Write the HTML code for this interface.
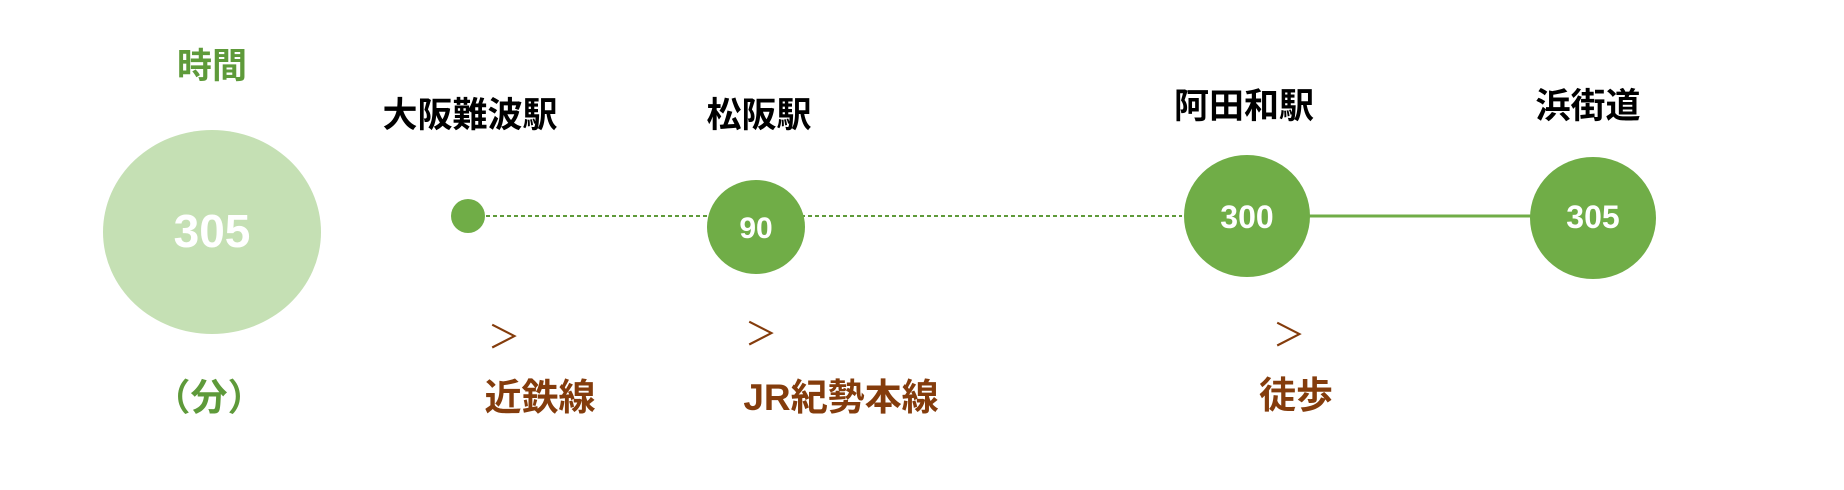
<!DOCTYPE html>
<html><head><meta charset="utf-8"><style>html,body{margin:0;padding:0;background:#fff;}svg{display:block}</style></head>
<body>
<svg width="1844" height="490" xmlns="http://www.w3.org/2000/svg" font-family="'Liberation Sans','Noto Sans CJK JP',sans-serif">
<g font-weight="bold" text-anchor="middle">
<text x="212" y="78" font-size="35" fill="#5E9A3A">時間</text>
<text x="470" y="127" font-size="35" fill="#000">大阪難波駅</text>
<text x="759" y="127" font-size="35" fill="#000">松阪駅</text>
<text x="1244" y="118" font-size="35" fill="#000">阿田和駅</text>
<text x="1588" y="118" font-size="35" fill="#000">浜街道</text>
</g>
<ellipse cx="212" cy="232" rx="109" ry="102" fill="#C5E0B4"/>
<line x1="486" y1="216" x2="1182" y2="216" stroke="#5E9A3A" stroke-width="2" stroke-dasharray="4,3"/>
<line x1="1300" y1="216" x2="1540" y2="216" stroke="#70AD47" stroke-width="3"/>
<circle cx="468" cy="216" r="17" fill="#70AD47"/>
<ellipse cx="756" cy="227" rx="49" ry="47" fill="#70AD47"/>
<ellipse cx="1247" cy="216" rx="63" ry="61" fill="#70AD47"/>
<ellipse cx="1593" cy="218" rx="63" ry="61" fill="#70AD47"/>
<g font-weight="bold" text-anchor="middle" fill="#fff">
<text x="212" y="247" font-size="46">305</text>
<text x="756" y="238" font-size="30">90</text>
<text x="1247" y="228" font-size="32">300</text>
<text x="1593" y="228" font-size="32">305</text>
</g>
<g fill="#843C0C" text-anchor="middle" font-size="32">
<text x="504" y="348">＞</text>
<text x="761" y="345">＞</text>
<text x="1289" y="346">＞</text>
</g>
<g font-weight="bold" text-anchor="middle" font-size="37">
<text x="209" y="410" fill="#5E9A3A">（分）</text>
<text x="540" y="410" fill="#843C0C">近鉄線</text>
<text x="841" y="410" fill="#843C0C">JR紀勢本線</text>
<text x="1296" y="408" fill="#843C0C">徒歩</text>
</g>
</svg>
</body></html>
